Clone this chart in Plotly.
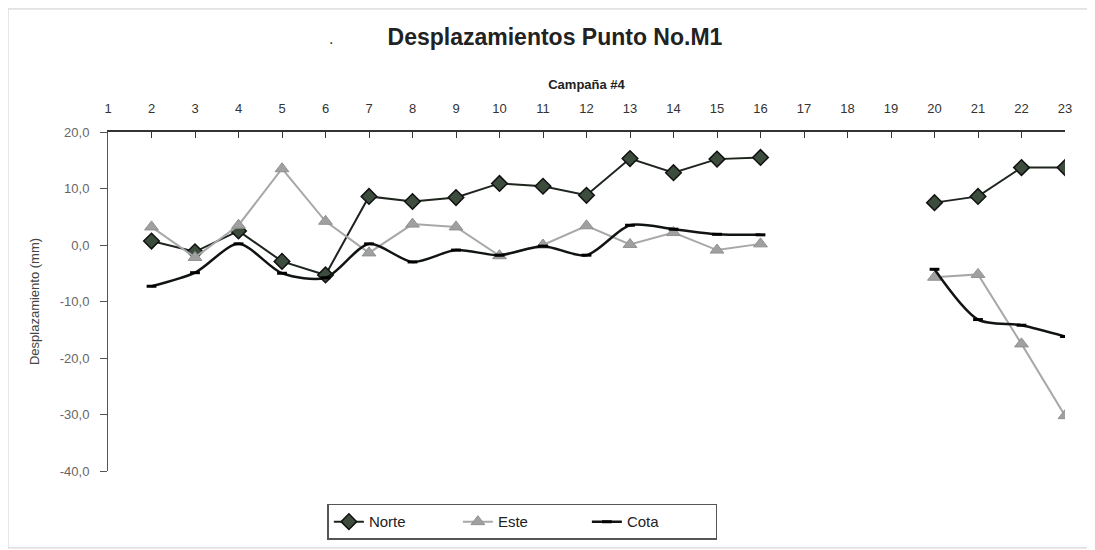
import plotly.graph_objects as go

campanas = list(range(1, 24))
norte = [None, 0.7, -1.2, 2.5, -2.9, -5.3, 8.6, 7.7, 8.4, 10.9, 10.4, 8.8, 15.3, 12.8, 15.2, 15.5,
         None, None, None, 7.5, 8.6, 13.7, 13.7]
este = [None, 3.2, -2.2, 3.5, 13.5, 4.2, -1.4, 3.7, 3.2, -1.9, 0.0, 3.4, 0.1, 2.2, -0.9, 0.2,
        None, None, None, -5.7, -5.2, -17.5, -30.2]
cota = [None, -7.3, -4.9, 0.2, -5.0, -5.8, 0.2, -3.0, -0.9, -1.8, -0.2, -1.8, 3.5, 2.8, 1.9, 1.8,
        None, None, None, -4.3, -13.2, -14.2, -16.2]
y_ticks = [20, 10, 0, -10, -20, -30, -40]
y_ticktext = ["20,0", "10,0", "0,0", "-10,0", "-20,0", "-30,0", "-40,0"]

fig = go.Figure()
fig.add_trace(go.Scatter(
    x=campanas, y=norte, name="Norte", mode="lines+markers",
    line=dict(color="#1e241e", width=2),
    marker=dict(symbol="diamond", size=12, color="#3d4d3d", line=dict(color="#111111", width=1.5)),
    connectgaps=False))
fig.add_trace(go.Scatter(
    x=campanas, y=este, name="Este", mode="lines+markers",
    line=dict(color="#a8a8a8", width=2),
    marker=dict(symbol="triangle-up", size=12, color="#a0a0a0", line=dict(color="#909090", width=1)),
    connectgaps=False))
fig.add_trace(go.Scatter(
    x=campanas, y=cota, name="Cota", mode="lines+markers",
    line=dict(color="#111511", width=2.5, shape="spline", smoothing=0.8),
    marker=dict(symbol="line-ew", size=7, line=dict(color="#000000", width=3)),
    connectgaps=False))

fig.update_layout(
    width=1095, height=550,
    paper_bgcolor="white", plot_bgcolor="white",
    margin=dict(l=100, r=38, t=124, b=87, autoexpand=False),
    font=dict(family="Liberation Sans, Arial, sans-serif", color="#444444"),
    title=dict(text="<b>Desplazamientos Punto No.M1</b>", x=0.4995, xanchor="center",
               y=0.947, yanchor="middle", font=dict(size=23, color="#222222")),
    showlegend=True,
    legend=dict(orientation="h", x=0.433, xanchor="center", y=-0.097, yanchor="top",
                bordercolor="#555555", borderwidth=1.5, font=dict(size=15, color="#222222"),
                tracegroupgap=0, entrywidth=84, entrywidthmode="pixels"),
    xaxis=dict(range=[1, 23], side="top", tickmode="array", tickvals=campanas,
               ticks="inside", ticklen=6, tickcolor="#333333", showline=True,
               linecolor="#333333", linewidth=1.5, showgrid=False, zeroline=False,
               automargin=False, ticklabelstandoff=12,
               tickfont=dict(size=13, color="#333333"),
               title=dict(text="<b>Campaña #4</b>", font=dict(size=13, color="#222222"), standoff=8)),
    yaxis=dict(range=[-40, 20], tickmode="array", tickvals=y_ticks, ticktext=y_ticktext,
               ticks="outside", ticklen=7, tickcolor="#555555", showline=True,
               linecolor="#555555", linewidth=1, showgrid=False, zeroline=False,
               automargin=False, ticklabelstandoff=8,
               tickfont=dict(size=13, color="#666666"),
               title=dict(text="Desplazamiento (mm)", font=dict(size=13, color="#444444"), standoff=17)),
)
fig.add_annotation(text=".", x=0.229, y=1.246, xref="paper", yref="paper", yanchor="bottom",
                   showarrow=False, font=dict(size=16, color="#333333"))
fig.add_shape(type="rect", xref="paper", yref="paper", x0=-0.1045, x1=1.026, y0=-0.227, y1=1.363,
              line=dict(color="#cccccc", width=1))
fig.write_html("out.html")
